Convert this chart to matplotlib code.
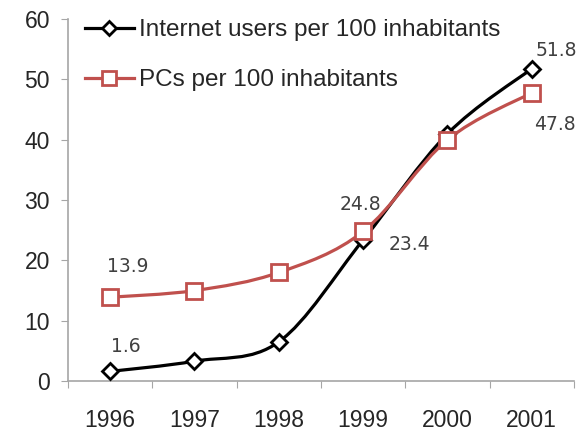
import matplotlib.pyplot as plt
from matplotlib.path import Path
from matplotlib.patches import PathPatch
from matplotlib.lines import Line2D
import numpy as np

years = ["1996", "1997", "1998", "1999", "2000", "2001"]
internet_users = [1.6, 3.3, 6.5, 23.4, 41.0, 51.8]
pcs = [13.9, 15.0, 18.0, 24.8, 40.0, 47.8]

# value labels: (index, x offset pts, y offset pts)
internet_labels = [(0, 11, 18), (3, 33, -3), (5, 18, 13)]
pc_labels = [(0, 13, 22), (3, -2, 19.5), (5, 16.5, -23)]

RED = "#c0504d"
TEXT = "#404040"
AXIS = "#a6a6a6"


def smooth_path(xs, ys):
    # Bezier segments through each point, like a spreadsheet "smoothed line"
    pts = np.column_stack([xs, ys]).astype(float)
    padded = np.vstack([pts[0], pts, pts[-1]])
    verts = [pts[0]]
    codes = [Path.MOVETO]
    for i in range(len(pts) - 1):
        p0, p1, p2, p3 = padded[i], padded[i + 1], padded[i + 2], padded[i + 3]
        c1 = p1 + (p2 - p0) / 6.0
        c2 = p2 - (p3 - p1) / 6.0
        verts += [c1, c2, p2]
        codes += [Path.CURVE4] * 3
    return Path(verts, codes)


fig = plt.figure(figsize=(5.78, 4.36), dpi=100)
ax = fig.add_axes([0.1176, 0.126, 0.8754, 0.830])

x = np.arange(len(years))

ax.add_patch(PathPatch(smooth_path(x, internet_users), fill=False,
                       edgecolor="black", lw=2.3, zorder=3))
ax.add_patch(PathPatch(smooth_path(x, pcs), fill=False,
                       edgecolor=RED, lw=2.3, zorder=4))
ax.plot(x, internet_users, ls="none", marker="D", ms=8.5, mfc="white",
        mec="black", mew=2.0, zorder=5)
ax.plot(x, pcs, ls="none", marker="s", ms=11.5, mfc="white",
        mec=RED, mew=2.0, zorder=6)

for i, dx, dy in internet_labels:
    ax.annotate(f"{internet_users[i]:.1f}", (x[i], internet_users[i]),
                xytext=(dx, dy), textcoords="offset points", ha="center",
                va="center", fontsize=13.5, color=TEXT, family="DejaVu Sans")
for i, dx, dy in pc_labels:
    ax.annotate(f"{pcs[i]:.1f}", (x[i], pcs[i]),
                xytext=(dx, dy), textcoords="offset points", ha="center",
                va="center", fontsize=13.5, color=TEXT, family="DejaVu Sans")

ax.set_xlim(-0.5, len(years) - 0.5)
ax.set_ylim(0, 60)
ax.set_yticks(range(0, 61, 10))
ax.set_xticks(np.arange(-0.5, len(years), 1.0))
ax.set_xticklabels([])
ax.set_xticks(x, minor=True)
ax.set_xticklabels(years, minor=True)
ax.tick_params(axis="x", which="minor", length=0, pad=20)
ax.tick_params(axis="x", which="major", length=5, color=AXIS, direction="out")
ax.tick_params(axis="y", length=5, color=AXIS, pad=8)
for lab in ax.get_xticklabels(minor=True) + ax.get_yticklabels():
    lab.set_family("Liberation Sans")
    lab.set_fontsize(16.5)
    lab.set_color("#262626")

for side in ("top", "right"):
    ax.spines[side].set_visible(False)
for side in ("left", "bottom"):
    ax.spines[side].set_color(AXIS)
    ax.spines[side].set_linewidth(1.2)

handles = [
    Line2D([], [], color="black", lw=2.3, marker="D", ms=7, mfc="white",
           mec="black", mew=2.0),
    Line2D([], [], color=RED, lw=2.3, marker="s", ms=10, mfc="white",
           mec=RED, mew=2.0),
]
ax.legend(handles, ["Internet users per 100 inhabitants", "PCs per 100 inhabitants"],
          loc="upper left", bbox_to_anchor=(0.034, 1.0), frameon=False,
          borderaxespad=0, borderpad=0,
          prop={"family": "Liberation Sans", "size": 17.5}, handlelength=2.0,
          handletextpad=0.2, labelspacing=1.15, labelcolor="#262626")

fig.savefig("out.png", dpi=100)
